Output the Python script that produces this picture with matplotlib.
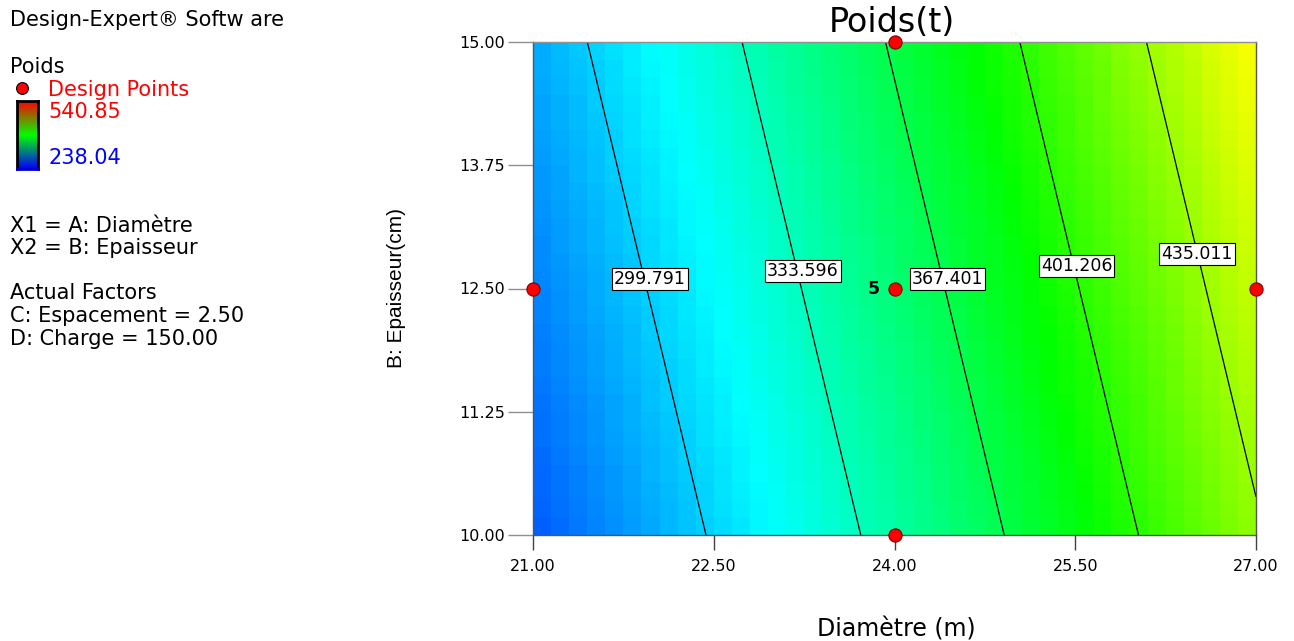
import numpy as np
import matplotlib
matplotlib.use('Agg')
import matplotlib.pyplot as plt
from matplotlib.colors import LinearSegmentedColormap, Normalize

plt.rcParams['font.family'] = ['DejaVu Sans']

# ---------------- data ----------------
x_ticks = [21.00, 22.50, 24.00, 25.50, 27.00]
y_ticks = [10.00, 11.25, 12.50, 13.75, 15.00]
contour_levels = [299.791, 333.596, 367.401, 401.206, 435.011]
design_A = [21.0, 24.0, 24.0, 24.0, 27.0]
design_B = [12.5, 10.0, 12.5, 15.0, 12.5]
center_replicates = "5"
poids_min = 238.04
poids_max = 540.85
# response model
coef_0 = 341.33
coef_A = 27.87
coef_AA = 0.84
coef_B_shift = 0.197

# ---------------- figure ----------------
W, H = 1294, 641
fig = plt.figure(figsize=(W / 100, H / 100), dpi=100)

def fx(px):
    return px / W

def fy(py):
    return 1 - py / H

ax = fig.add_axes([fx(533), fy(535), (1256 - 533) / W, (535 - 42) / H])

cmap = LinearSegmentedColormap.from_list(
    'de', ['#0000ff', '#00ffff', '#00ff00', '#ffff00', '#ff0000'])
norm = Normalize(poids_min, poids_max)

def poids(A, B):
    u = A + coef_B_shift * (B - 10.0) - 24.0
    return coef_0 + coef_A * u + coef_AA * u ** 2

nx, ny = 40, 28
xe = np.linspace(x_ticks[0], x_ticks[-1], nx + 1)
ye = np.linspace(y_ticks[0], y_ticks[-1], ny + 1)
xc = 0.5 * (xe[1:] + xe[:-1])
yc = 0.5 * (ye[1:] + ye[:-1])
XC, YC = np.meshgrid(xc, yc)
ax.pcolormesh(xe, ye, poids(XC, YC), cmap=cmap, norm=norm, shading='flat')

xf = np.linspace(x_ticks[0], x_ticks[-1], 300)
yf = np.linspace(y_ticks[0], y_ticks[-1], 300)
XF, YF = np.meshgrid(xf, yf)
ax.contour(XF, YF, poids(XF, YF), levels=contour_levels, colors='black',
           linewidths=0.9)

label_pos = [(21.97, 12.60), (23.24, 12.68), (24.44, 12.60),
             (25.51, 12.73), (26.51, 12.85)]
for lev, (lx, ly) in zip(contour_levels, label_pos):
    ax.text(lx, ly, f"{lev:.3f}", ha='center', va='center', fontsize=12.5,
            bbox=dict(boxstyle='square,pad=0.12', fc='white', ec='black',
                      lw=0.8), zorder=5)

ax.plot(design_A, design_B, 'o', ms=9.5, mfc='#ff0000', mec='#7a0000',
        mew=0.8, clip_on=False, zorder=6)
ax.text(23.88, 12.5, center_replicates, ha='right', va='center',
        fontsize=12.5, fontweight='bold', zorder=6)

ax.set_xlim(x_ticks[0], x_ticks[-1])
ax.set_ylim(y_ticks[0], y_ticks[-1])
ax.set_xticks(x_ticks)
ax.set_yticks(y_ticks)
ax.set_xticklabels([f"{v:.2f}" for v in x_ticks])
ax.set_yticklabels([f"{v:.2f}" for v in y_ticks])
ax.tick_params(axis='x', length=11, width=1, color='#404040', labelsize=11.5,
               pad=6)
ax.tick_params(axis='y', length=18, width=1, color='#909090', labelsize=11.5,
               pad=2)
for s in ax.spines.values():
    s.set_color('#555555')
    s.set_linewidth(1)
ax.spines['top'].set_color('#909090')

fig.text(fx(892), fy(22), 'Poids(t)', ha='center', va='center', fontsize=24)
fig.text(fx(896), fy(630), 'Diamètre (m)', ha='center', va='center',
         fontsize=17)
fig.text(fx(396), fy(288), 'B: Epaisseur(cm)', ha='center', va='center',
         fontsize=15, rotation=90, family=['Liberation Sans', 'DejaVu Sans'])

# ---------------- left legend panel ----------------
fs = 15
fig.text(fx(10), fy(20), 'Design-Expert® Softw are', ha='left',
         va='center', fontsize=fs)
fig.text(fx(10), fy(67), 'Poids', ha='left', va='center', fontsize=fs)
fig.text(fx(48), fy(90), 'Design Points', ha='left', va='center',
         fontsize=fs, color='#ff0000')
fig.text(fx(48), fy(112), f"{poids_max:.2f}", ha='left', va='center',
         fontsize=fs, color='#ff0000')
fig.text(fx(48), fy(158), f"{poids_min:.2f}", ha='left', va='center',
         fontsize=fs, color='#0000ff')
fig.lines.append(plt.Line2D([fx(22)], [fy(88)], marker='o', ms=8.5,
                            mfc='#ff0000', mec='black', mew=0.8,
                            transform=fig.transFigure))

cax = fig.add_axes([fx(17), fy(169), 21 / W, 68 / H])
grad = np.linspace(1, 0, 100).reshape(-1, 1)
cax.imshow(grad, aspect='auto',
           cmap=LinearSegmentedColormap.from_list('rgb', ['#0000ff', '#00ff00', '#ff0000']),
           extent=[0, 1, 0, 1])
cax.set_xticks([])
cax.set_yticks([])
for s in cax.spines.values():
    s.set_linewidth(2)
    s.set_color('black')
cax.spines['bottom'].set_color('#0000cc')

lines = [(226, 'X1 = A: Diamètre'), (248, 'X2 = B: Epaisseur'),
         (293, 'Actual Factors'), (316, 'C: Espacement = 2.50'),
         (339, 'D: Charge = 150.00')]
for yy, t in lines:
    fig.text(fx(10), fy(yy), t, ha='left', va='center', fontsize=fs)

fig.savefig('out.png', dpi=100)
